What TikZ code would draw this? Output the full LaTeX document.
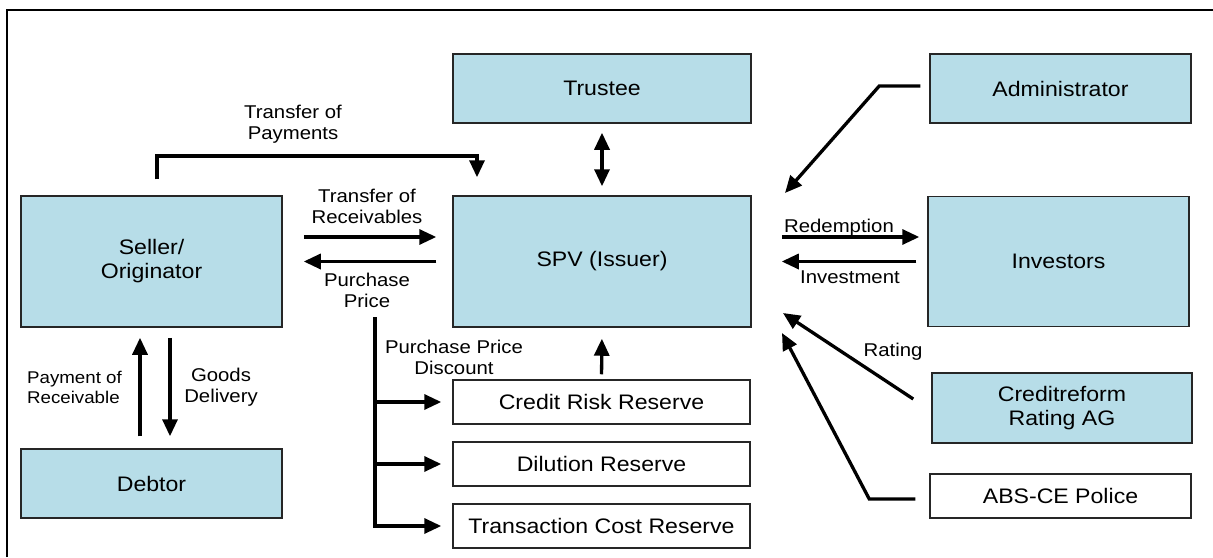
\documentclass[tikz,border=0pt]{standalone}
\usepackage{fontspec}
\setmainfont{Liberation Sans}[FakeStretch=1.1]
\usepackage{tikz}
\usetikzlibrary{arrows.meta}
\definecolor{boxblue}{HTML}{B7DDE8}

\begin{document}
\begin{tikzpicture}[x=1pt,y=-1pt,
  party/.style={draw=black!85,line width=1.5pt,fill=boxblue,font=\fontsize{21}{24}\selectfont,align=center,inner sep=0pt},
  reserve/.style={party,fill=white,minimum width=297pt,minimum height=44pt},
  flow/.style={line width=3.3pt,-{Triangle[length=17pt,width=15pt]}},
  both/.style={line width=3.3pt,{Triangle[length=17pt,width=15pt]}-{Triangle[length=17pt,width=15pt]}},
  lbl/.style={font=\fontsize{18.5}{21}\selectfont,align=center,inner sep=0pt}]
\useasboundingbox (0,0) rectangle (1213,557);
\draw[line width=2pt] (7,557) |- (1213,10);
\node[party,minimum width=298pt,minimum height=69pt] (trustee) at (602,88.5) {Trustee};
\node[party,minimum width=261pt,minimum height=131pt] (seller) at (151.5,261.5) {Seller/\\Originator};
\node[party,minimum width=298pt,minimum height=131pt] (spv) at (602,261.5) {SPV (Issuer)};
\node[party,minimum width=261pt,minimum height=69pt] (debtor) at (151.5,483.5) {Debtor};
\node[party,minimum width=261pt,minimum height=69pt] (admin) at (1060.5,88.5) {Administrator};
\node[party,minimum width=261pt,minimum height=130pt] (investors) at (1058.5,261.5) {Investors};
\node[party,minimum width=260pt,minimum height=70pt] (creditreform) at (1062,408) {Creditreform\\Rating AG};
\node[reserve,minimum width=261pt] (police) at (1060.5,496) {ABS-CE Police};
\node[reserve] (crr) at (601.5,402) {Credit Risk Reserve};
\node[reserve] (dilution) at (601.5,464) {Dilution Reserve};
\node[reserve] (tcr) at (601.5,526) {Transaction Cost Reserve};

\draw[flow,shorten <=21pt,shorten >=16pt] ([yshift=24.5pt]seller.east) -- ([yshift=24.5pt]spv.west);
\draw[flow,shorten <=16pt,shorten >=21pt] (spv.west) -- (seller.east);
\node[lbl] at (367,206) {Transfer of\\Receivables};
\node[lbl] at (367,290) {Purchase\\Price};

\coordinate (tpay) at (477,156);
\draw[flow] ([xshift=5.5pt,yshift=16pt]seller.north) |- (tpay) -- ([xshift=-125pt,yshift=18pt]spv.north);
\node[lbl] at (293,124) {Transfer of\\Payments};

\draw[both,shorten <=9pt,shorten >=9pt] (trustee.south) -- (spv.north);

\coordinate (adminend) at (785,193);
\draw[flow] ([xshift=-9pt,yshift=2.5pt]admin.west) -- ++(-41,0) -- (adminend);

\draw[flow,shorten <=30pt,shorten >=8pt] ([yshift=24.5pt]spv.east) -- ([yshift=24.5pt]investors.west);
\draw[flow,shorten <=11pt,shorten >=30pt] (investors.west) -- (spv.east);
\node[lbl,anchor=base] at (839,232) {Redemption};
\node[lbl,anchor=base] at (850,283) {Investment};

\coordinate (ratingend) at (783,313);
\draw[flow] ([xshift=-18pt,yshift=9pt]creditreform.west) -- (ratingend);
\node[lbl,anchor=base] at (893,356) {Rating};

\coordinate (policeend) at (782,333);
\draw[flow] ([xshift=-14pt,yshift=-3pt]police.west) -- ++(-46,0) -- (policeend);

\draw[flow,shorten <=12pt,shorten >=10pt] ([xshift=-11.5pt]debtor.north) -- ([xshift=-11.5pt]seller.south);
\draw[flow,shorten <=10pt,shorten >=12pt] ([xshift=18.5pt]seller.south) -- ([xshift=18.5pt]debtor.north);
\node[lbl,font=\fontsize{17}{19.5}\selectfont,align=left,anchor=west] at (27,387.5) {Payment of\\Receivable};
\node[lbl] at (221,387.5) {Goods\\Delivery};

\coordinate (discount) at (375,317);
\draw[flow,shorten >=11pt] (discount) |- (tcr.west);
\foreach \r in {crr,dilution}{\draw[flow,shorten >=11pt] (375,0 |- \r.west) -- (\r.west);}
\node[lbl] at (454,357.5) {Purchase Price\\Discount};

\draw[flow,shorten <=5pt,shorten >=11pt] (crr.north) -- (spv.south);
\end{tikzpicture}
\end{document}
